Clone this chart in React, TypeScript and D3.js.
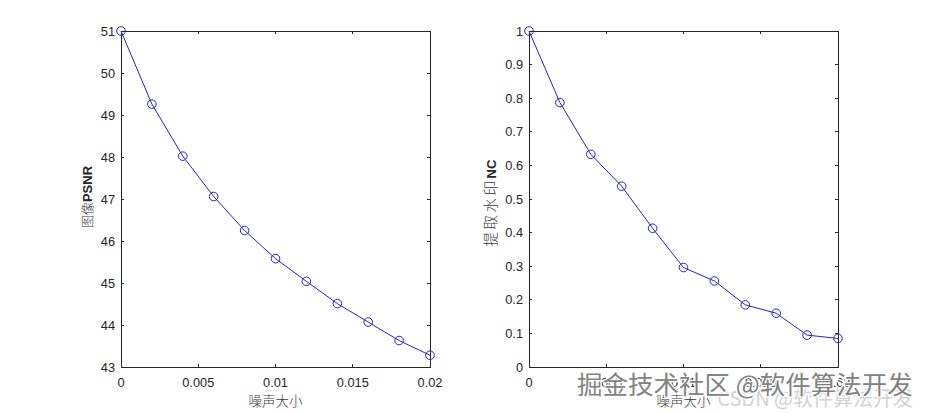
import React from "react";
import * as d3 from "d3";

const noise = [0, 0.002, 0.004, 0.006, 0.008, 0.01, 0.012, 0.014, 0.016, 0.018, 0.02];
const psnr = [51.0, 49.26, 48.02, 47.06, 46.25, 45.58, 45.04, 44.51, 44.07, 43.63, 43.28];
const nc = [1.0, 0.787, 0.633, 0.538, 0.413, 0.296, 0.256, 0.185, 0.160, 0.095, 0.085];
const xTicks = [0, 0.005, 0.01, 0.015, 0.02];
const psnrTicks = [43, 44, 45, 46, 47, 48, 49, 50, 51];
const ncTicks = [0, 0.1, 0.2, 0.3, 0.4, 0.5, 0.6, 0.7, 0.8, 0.9, 1];
const xLabel = "噪声大小";
const psnrLabel = ["图像", "PSNR"];
const ncLabel = ["提取水印", "NC"];

const W = 927;
const H = 414;
const TOP = 31;
const BOTTOM = 367;
const LINE = "#2323c8";
const TEXT = "#262626";
const FONT = "'Liberation Sans', Arial, Helvetica, sans-serif";
const CJK = "'Noto Sans CJK SC', sans-serif";

function fmt(v: number) {
  return String(+v.toFixed(4));
}

function Panel({ left, right, ys, yTicks, yDomain, yLabel, yLabelX, yLabelY, cjkSize, cjkSpacing }: any) {
  const x = d3.scaleLinear().domain([0, 0.02]).range([left, right]);
  const y = d3.scaleLinear().domain(yDomain).range([BOTTOM, TOP]);
  const line = d3
    .line<number>()
    .x((_, i) => x(noise[i]))
    .y((d) => y(d));
  const tl = 3;
  return (
    <g>
      <rect x={left} y={TOP} width={right - left} height={BOTTOM - TOP} fill="none" stroke={TEXT} strokeWidth={1} shapeRendering="crispEdges" />
      {xTicks.map((t) => (
        <g key={"x" + t}>
          <line x1={x(t)} x2={x(t)} y1={BOTTOM} y2={BOTTOM - tl} stroke={TEXT} shapeRendering="crispEdges" />
          <line x1={x(t)} x2={x(t)} y1={TOP} y2={TOP + tl} stroke={TEXT} shapeRendering="crispEdges" />
          <text x={x(t)} y={BOTTOM + 20} textAnchor="middle" fontSize={12.8} fontFamily={FONT} fill={TEXT}>
            {fmt(t)}
          </text>
        </g>
      ))}
      {yTicks.map((t: number) => (
        <g key={"y" + t}>
          <line x1={left} x2={left + tl} y1={y(t)} y2={y(t)} stroke={TEXT} shapeRendering="crispEdges" />
          <line x1={right} x2={right - tl} y1={y(t)} y2={y(t)} stroke={TEXT} shapeRendering="crispEdges" />
          <text x={left - 6} y={y(t) + 4.5} textAnchor="end" fontSize={12.8} fontFamily={FONT} fill={TEXT}>
            {fmt(t)}
          </text>
        </g>
      ))}
      <path d={line(ys) || ""} fill="none" stroke={LINE} strokeWidth={1} />
      {ys.map((v: number, i: number) => (
        <circle key={i} cx={x(noise[i])} cy={y(v)} r={4.3} fill="none" stroke={LINE} strokeWidth={1} />
      ))}
      <text x={(left + right) / 2} y={BOTTOM + 39} textAnchor="middle" fontSize={13.5} fontFamily={CJK} fontWeight={300} fill="#3a3a3a">
        {xLabel}
      </text>
      <text
        transform={`translate(${yLabelX},${yLabelY}) rotate(-90)`}
        textAnchor="middle"
        fill={TEXT}
      >
        <tspan fontFamily={CJK} fontSize={cjkSize} fontWeight={300} letterSpacing={cjkSpacing} fill="#3a3a3a">
          {yLabel[0]}
        </tspan>
        <tspan fontFamily={FONT} fontSize={13} fontWeight="bold">
          {yLabel[1]}
        </tspan>
      </text>
    </g>
  );
}

export default function App() {
  return (
    <svg width={W} height={H} style={{ position: "absolute", left: 0, top: 0, background: "#fff" }}>
      <rect width={W} height={H} fill="#fff" />
      <Panel left={121} right={430} ys={psnr} yTicks={psnrTicks} yDomain={[43, 51]} yLabel={psnrLabel} yLabelX={92} yLabelY={197} cjkSize={13} cjkSpacing={0} />
      <Panel left={529} right={838} ys={nc} yTicks={ncTicks} yDomain={[0, 1]} yLabel={ncLabel} yLabelX={496} yLabelY={203} cjkSize={14.5} cjkSpacing={2.5} />
      <text x={913} y={406} textAnchor="end" fontSize={20} fontFamily={CJK} fill="#d2d2d2">
        CSDN @软件算法开发
      </text>
      <text
        x={577}
        y={394}
        fontSize={25.5}
        fontFamily={CJK}
        fill="#828282"
        stroke="#ffffff"
        strokeWidth={2.5}
        paintOrder="stroke"
      >
        掘金技术社区 @软件算法开发
      </text>
    </svg>
  );
}
